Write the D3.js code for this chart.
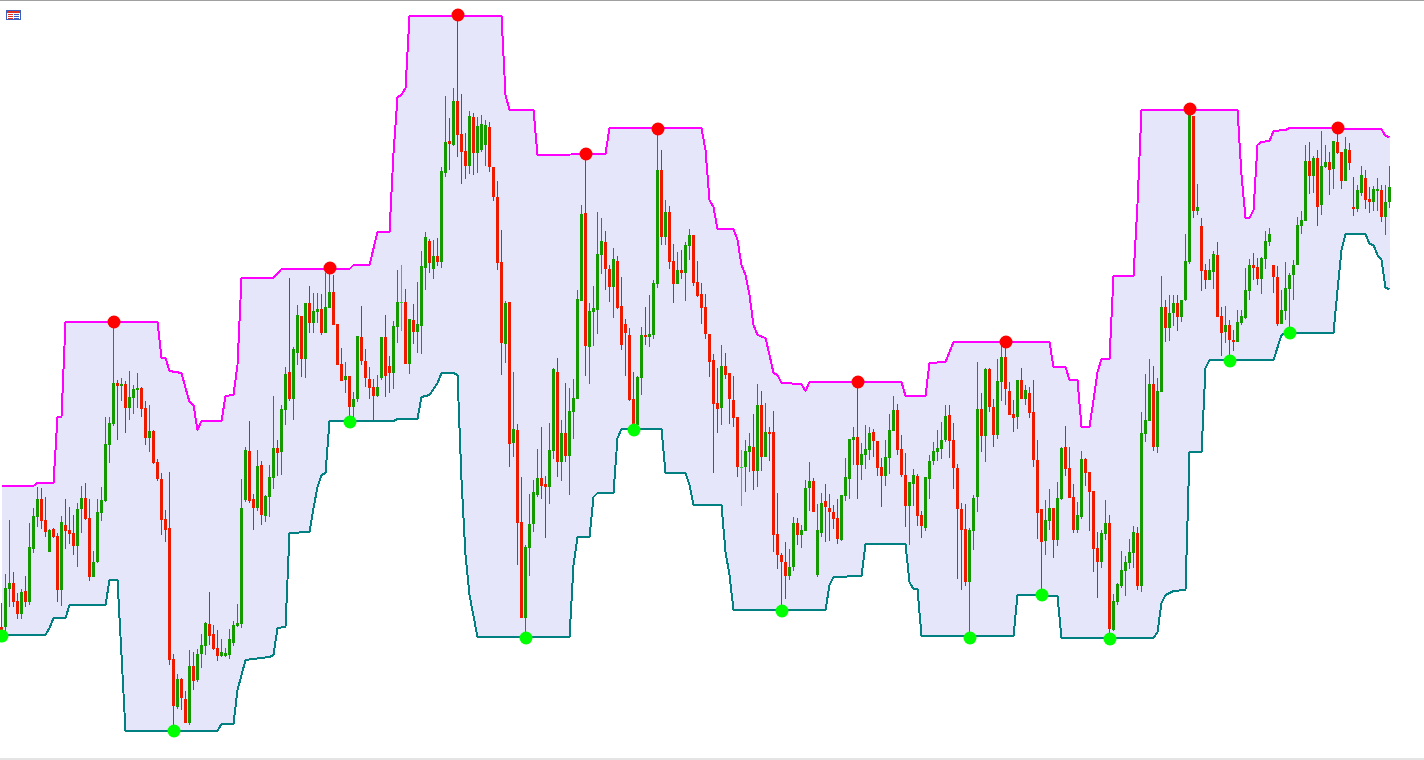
<!DOCTYPE html>
<html><head><meta charset="utf-8">
<script src="https://cdnjs.cloudflare.com/ajax/libs/d3/7.8.5/d3.min.js"></script>
<style>html,body{margin:0;padding:0;background:#fff;overflow:hidden}svg{display:block}</style>
</head><body><svg id="c" width="1424" height="760"></svg>
<script>
const opens=[133,133,171,177,159,146,169,158,211,243,261,240,208,231,224,170,235,230,227,214,251,262,242,183,198,247,259,315,336,377,
374,376,352,362,370,372,352,322,329,298,281,241,232,101,53,81,61,37,94,80,106,114,136,126,112,104,104,105,117,134,
136,260,309,261,252,295,244,263,282,312,308,350,388,361,407,444,401,457,437,448,451,427,452,468,436,396,380,384,353,361,
423,399,381,373,364,382,423,394,387,433,458,458,396,440,428,434,492,519,491,504,498,587,619,615,659,626,609,594,643,607,
610,615,633,593,563,498,416,458,317,330,238,142,212,236,265,282,276,273,309,388,298,327,304,348,361,459,547,413,448,450,
505,518,491,473,499,454,436,425,361,335,382,425,423,425,476,590,523,548,499,476,490,487,514,525,478,466,453,426,400,357,
352,394,387,360,343,293,293,308,313,289,355,303,328,328,226,205,198,184,193,237,225,229,272,279,185,227,259,252,248,242,
220,264,281,320,323,295,305,310,328,319,293,284,302,329,350,311,285,254,276,284,245,232,281,299,308,311,320,345,320,292,
251,231,178,229,263,351,324,391,353,325,378,403,369,346,343,380,361,367,348,300,251,219,239,252,220,261,313,292,263,230,
243,301,288,269,212,198,226,237,130,158,174,189,197,207,227,174,326,339,376,313,368,453,432,447,457,443,460,498,644,549,
534,490,480,488,505,444,428,435,420,418,437,442,469,495,493,481,501,518,495,483,436,449,471,485,495,
534,539,599,584,602,555,593,598,591,618,608,579,610,553,551,567,582,561,558,569,570,543,558];
const closes=[124,172,177,158,146,168,158,213,244,261,239,228,230,223,170,238,229,226,214,251,262,241,183,198,248,260,316,337,377,374,
376,352,363,371,372,351,322,329,297,281,240,230,100,54,81,62,37,94,79,106,115,137,124,111,104,108,107,121,135,137,
252,310,259,252,294,245,264,283,312,307,351,386,361,411,445,401,457,437,449,451,427,453,468,435,395,379,384,353,361,424,
399,382,372,364,373,423,384,387,434,458,458,396,441,428,436,494,523,497,504,498,589,618,616,659,625,608,594,644,607,634,
636,635,593,563,497,417,457,316,331,237,142,213,236,268,282,274,273,310,391,298,327,304,349,362,461,546,414,449,452,506,
519,491,473,501,452,415,427,360,335,383,425,423,426,477,590,523,548,498,476,490,487,515,525,477,464,452,426,398,356,351,
394,385,361,342,293,293,309,314,289,355,303,328,326,225,205,198,184,193,237,225,230,272,279,248,230,257,253,248,241,221,
265,283,321,323,295,306,311,327,319,292,284,303,330,350,310,285,254,278,285,244,234,283,299,309,312,320,344,319,292,251,
230,178,230,262,351,324,391,353,325,379,403,371,345,342,380,361,370,347,300,247,218,240,252,220,262,312,291,262,230,245,
301,287,268,211,198,227,237,131,159,176,190,198,208,228,174,327,340,376,313,369,453,432,447,457,443,460,499,645,549,553,
489,480,490,506,443,427,435,420,418,438,444,470,495,492,481,502,519,526,483,436,450,472,485,495,535,
540,599,584,602,553,594,598,590,619,607,579,611,597,551,570,585,560,558,571,571,543,558,573];
const highs=[157,186,240,188,167,171,184,237,252,273,272,263,231,232,227,244,261,253,245,257,274,277,261,209,261,273,343,343,438,380,
382,379,389,375,387,373,359,355,330,301,287,250,288,106,86,82,69,110,108,111,126,138,168,135,130,121,112,131,139,156,
281,313,339,266,310,299,265,295,364,320,355,393,482,413,455,444,457,474,467,467,466,487,492,485,436,412,398,384,368,424,
454,411,393,381,385,423,445,404,439,490,495,471,441,456,478,509,528,521,520,522,593,664,642,672,745,666,627,649,647,643,
645,640,638,593,579,530,459,458,388,336,283,215,266,280,311,333,284,337,392,402,340,377,372,381,470,555,606,457,474,548,
542,529,495,512,504,483,441,432,388,384,433,453,465,480,631,610,560,554,516,508,510,518,531,525,499,477,466,426,406,392,
415,407,387,384,343,310,320,327,346,376,369,357,333,349,267,207,218,211,243,242,235,280,298,282,256,267,276,266,255,261,
265,302,321,333,378,317,335,333,331,319,302,320,346,364,356,325,307,278,291,286,249,283,305,318,330,338,355,355,337,296,
257,256,232,265,398,367,392,392,361,401,417,418,378,360,380,392,375,373,380,320,251,260,271,252,278,313,334,313,276,258,
309,302,288,269,228,230,260,245,166,177,209,204,221,234,233,348,386,401,394,382,484,460,465,465,465,460,526,651,644,576,
542,496,501,509,518,453,454,440,430,450,450,492,501,507,502,503,529,532,495,494,470,498,487,500,543,
549,615,618,604,610,629,615,608,619,632,608,623,617,583,575,594,590,573,574,582,575,575,594];
const lows=[124,127,153,153,141,141,153,155,207,233,231,223,208,222,158,154,211,216,205,193,227,240,179,183,197,239,258,297,334,320,
359,327,340,346,352,343,315,308,296,279,225,218,95,29,51,50,37,35,70,78,92,105,115,110,99,103,103,101,114,133,
132,258,257,230,249,235,238,243,271,284,285,335,359,340,395,383,382,427,427,437,425,427,452,435,395,379,367,338,343,358,
395,373,361,340,363,380,363,367,371,417,429,396,386,416,407,406,470,487,481,494,492,583,590,614,603,576,581,586,585,587,
608,594,588,559,490,385,397,293,303,195,142,122,184,228,263,261,222,256,301,283,279,298,265,321,361,459,384,376,414,426,
486,470,458,442,451,410,384,359,330,335,365,415,413,421,472,515,515,491,457,476,481,459,500,474,463,436,421,383,287,327,
335,381,336,333,283,254,268,288,270,273,289,303,299,208,191,149,161,180,189,215,212,229,249,248,183,223,218,219,231,216,
219,259,261,295,261,280,291,300,303,284,253,274,286,329,305,283,233,215,254,234,222,229,261,295,299,301,318,302,271,181,
170,174,122,210,248,308,298,348,313,321,359,355,345,328,331,361,355,342,293,221,165,205,230,202,214,260,284,262,227,227,
241,274,229,188,162,192,220,121,129,155,172,164,191,192,170,168,318,339,309,307,368,418,419,434,429,438,459,496,542,545,
469,471,480,471,443,404,417,399,409,418,435,441,460,480,475,466,491,514,467,434,436,440,427,460,495,
526,539,566,567,534,545,592,565,571,606,571,579,590,544,548,564,551,547,549,549,538,525,552];
// Channel: bar index of each vertex, and its price
const upperBars=[0,8,9,13,14,15,16,39,40,41,42,45,46,47,48,49,50,55,56,58,59,60,68,70,87,88,92,94,97,98,99,100,101,102,125,126,127,133,134,151,152,175,176,177,178,179,183,184,185,186,187,188,189,191,192,193,194,195,200,201,202,225,226,231,232,236,237,238,262,263,266,267,269,270,272,273,274,275,277,278,283,284,285,309,310,311,312,313,314,315,317,318,321,322,345,346,347];
const upperVals=[274,274,277,277,343,343,438,438,402,402,389,387,372,358,355,330,339,339,364,365,395,482,482,491,491,495,495,528,528,607,663,665,672,744,744,665,650,650,605,606,632,632,610,560,553,531,531,520,495,485,465,435,425,422,405,387,385,377,376,369,378,378,364,364,397,398,408,418,418,393,393,380,380,333,333,360,388,401,401,484,484,556,650,650,585,542,542,550,615,618,619,629,630,632,631,624,623];
const lowerBars=[0,11,12,13,16,17,26,27,29,30,31,54,55,58,59,60,61,67,68,69,71,72,77,78,79,80,81,82,98,99,104,105,107,109,110,113,114,115,116,117,119,142,143,144,147,148,149,153,154,155,165,166,171,172,173,180,181,182,183,206,207,208,215,216,226,227,228,229,230,253,254,264,265,288,289,290,291,293,296,297,300,301,302,318,320,321,333,334,335,336,341,342,343,344,345,346,347];
const lowerVals=[125,125,132,142,142,155,155,180,180,105,29,29,36,36,70,85,100,103,105,132,133,227,228,252,273,285,287,339,339,341,341,363,365,377,387,387,385,280,205,165,123,123,195,223,223,263,267,267,322,331,331,287,287,275,255,255,208,185,150,150,175,183,184,216,216,178,171,171,124,124,165,164,122,122,128,157,165,169,170,308,308,392,400,400,425,427,427,470,510,526,526,516,515,505,500,472,471];
const pivotHighs=[28,82,114,146,164,214,251,297,334];
const pivotLows=[0,43,87,131,158,195,242,260,277,307,322];

const W=1424,H=760;
const svg=d3.select('#c');
const x=d3.scaleLinear().domain([0,opens.length-1]).range([1.5,1389.5]);
const y=d3.scaleLinear().domain([0,760]).range([760,0]);
const GREEN='#149a00',RED='#ee1a00',DOJI='#33cc33';

const upperPts=upperBars.map((b,i)=>[b,upperVals[i]]);
const lowerPts=lowerBars.map((b,i)=>[b,lowerVals[i]]);
const line=d3.line().x(d=>x(d[0])).y(d=>y(d[1]));

svg.append('path').attr('d',line(upperPts.concat(lowerPts.slice().reverse()))+'Z').attr('fill','#e6e6fa').attr('shape-rendering','crispEdges');
svg.append('path').attr('d',line(lowerPts)).attr('fill','none').attr('stroke','#008080').attr('stroke-width',2).attr('stroke-linejoin','round').attr('shape-rendering','crispEdges');
svg.append('path').attr('d',line(upperPts)).attr('fill','none').attr('stroke','#ff00ff').attr('stroke-width',2).attr('stroke-linejoin','round').attr('shape-rendering','crispEdges');

const bars=d3.range(opens.length);
const col=i=>opens[i]===closes[i]?DOJI:(closes[i]>opens[i]?GREEN:RED);
const g=svg.append('g').attr('shape-rendering','crispEdges');
g.selectAll('rect.w').data(bars).join('rect').attr('class','w')
 .attr('x',i=>x(i)-0.5).attr('width',1)
 .attr('y',i=>y(highs[i])).attr('height',i=>y(lows[i])-y(highs[i]))
 .attr('fill',col);
g.selectAll('rect.b').data(bars).join('rect').attr('class','b')
 .attr('x',i=>x(i)-1.5).attr('width',3)
 .attr('y',i=>y(Math.max(opens[i],closes[i])))
 .attr('height',i=>Math.max(1,Math.abs(y(opens[i])-y(closes[i]))))
 .attr('fill',col);

svg.selectAll('circle.h').data(pivotHighs).join('circle').attr('class','h')
 .attr('cx',i=>x(i)+0.5).attr('cy',i=>y(highs[i])).attr('r',6.5).attr('fill','#ff0000');
svg.selectAll('circle.l').data(pivotLows).join('circle').attr('class','l')
 .attr('cx',i=>x(i)+0.5).attr('cy',i=>y(lows[i])).attr('r',6.5).attr('fill','#00ff00');

// window frame
svg.append('rect').attr('x',0).attr('y',0).attr('width',W).attr('height',1).attr('fill','#a0a0a0');
svg.append('rect').attr('x',0).attr('y',758).attr('width',W).attr('height',2).attr('fill','#e4e4e4');
// small template icon
const ic=svg.append('g').attr('shape-rendering','crispEdges');
ic.append('rect').attr('x',6.5).attr('y',10.5).attr('width',14).attr('height',9).attr('fill','#fff').attr('stroke','#3a5fc0');
ic.append('rect').attr('x',7).attr('y',11).attr('width',13).attr('height',2).attr('fill','#e03020');
[14,16,18].forEach(v=>{
 ic.append('rect').attr('x',8).attr('y',v).attr('width',5).attr('height',1).attr('fill','#e03020');
 ic.append('rect').attr('x',14).attr('y',v).attr('width',5).attr('height',1).attr('fill','#3a5fc0');
});
</script></body></html>
